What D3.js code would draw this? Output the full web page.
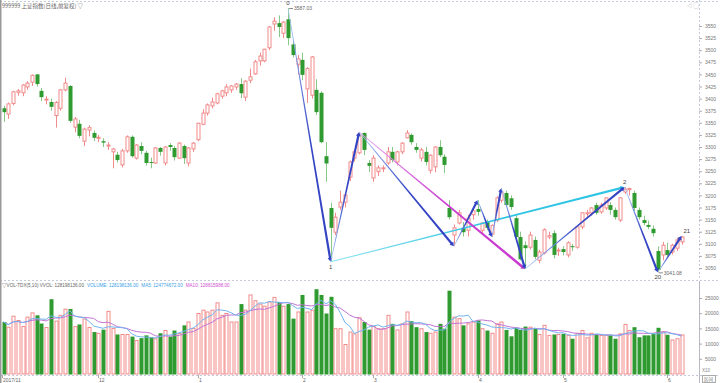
<!DOCTYPE html>
<html>
<head>
<meta charset="utf-8">
<script src="https://cdn.jsdelivr.net/npm/d3@7"></script>
<style>
  body { margin: 0; background: #fff; }
  svg { display: block; font-family: "Liberation Sans", "Noto Sans CJK SC", sans-serif; }
</style>
</head>
<body>
<script>
// SSE composite daily, 2017/11/03 .. 2018/06/06
var opens = [3380,3368,3390,3413,3412,3424,3434,3450,3416,3397, 3393,3365,3380,3418,3426,3341,3348,3312,3335,3329,
  3318,3312,3302,3290,3284,3263,3292,3321,3277,3302, 3288,3269,3267,3298,3267,3304,3298,3277,3302,3267,
  3296,3315,3347,3370,3385,3391,3405,3412,3418,3424, 3430,3403,3438,3451,3478,3478,3505,3554,3556,3535,
  3564,3512,3471,3480,3420,3407,3418,3412,3281,3174, 3124,3176,3186,3238,3277,3288,3329,3267,3236,3249,
  3255,3267,3290,3269,3290,3319,3325,3300,3277,3290, 3252,3259,3300,3280,3174,3118,3143,3133,3128,3160,
  3172,3128,3145,3120,3149,3190,3205,3194,3153,3114, 3097,3093,3108,3066,3081,3114,3122,3085,3089,3077,
  3095,3093,3135,3162,3164,3180,3166,3174,3180,3170, 3149,3207,3212,3205,3170,3149,3139,3131,3085,3077,
  3087,3083,3091,3104];
var highs = [3385,3392,3416,3420,3430,3436,3450,3451,3422,3405, 3400,3395,3420,3443,3428,3362,3356,3340,3345,3334,
  3325,3318,3310,3298,3290,3296,3324,3324,3306,3310, 3292,3278,3300,3300,3302,3308,3302,3310,3305,3300,
  3310,3350,3378,3390,3402,3412,3418,3430,3428,3432, 3442,3438,3462,3480,3495,3503,3550,3568,3572,3560,
  3587.03,3520,3490,3495,3465,3488,3440,3415,3310,3185, 3164,3210,3205,3272,3295,3331,3330,3273,3283,3262,
  3262,3300,3300,3292,3310,3335,3328,3308,3298,3300, 3285,3302,3314,3285,3190,3140,3170,3145,3160,3172,
  3190,3145,3150,3140,3198,3215,3210,3200,3160,3125, 3105,3125,3115,3088,3132,3125,3128,3092,3095,3105,
  3100,3138,3165,3170,3176,3185,3185,3196,3186,3175, 3196,3217,3216,3210,3175,3158,3148,3138,3095,3104,
  3102,3100,3112,3116];
var lows = [3352,3358,3386,3406,3405,3418,3426,3425,3395,3388, 3375,3340,3375,3415,3350,3330,3318,3302,3322,3312,
  3310,3300,3294,3256,3268,3258,3288,3278,3274,3285, 3262,3256,3265,3282,3262,3292,3272,3275,3265,3260,
  3290,3312,3345,3365,3380,3388,3400,3405,3412,3418, 3401,3395,3432,3449,3468,3475,3500,3540,3527,3525,
  3510,3485,3450,3438,3391,3400,3366,3308,3228,3062.74, 3118,3170,3175,3230,3270,3285,3283,3248,3228,3240,
  3248,3263,3268,3262,3285,3318,3305,3288,3270,3262, 3245,3248,3279,3246,3150,3095,3140,3115,3115,3150,
  3158,3120,3128,3114,3145,3185,3176,3170,3110,3066, 3048,3088,3068,3060,3078,3110,3070,3075,3076,3072,
  3085,3090,3130,3155,3158,3160,3162,3170,3160,3150, 3145,3203,3200,3168,3150,3138,3130,3115,3041.08,3066,
  3070,3078,3085,3098];
var closes = [3372,3389,3414,3416,3428,3432,3448,3430,3403,3399, 3383,3392,3418,3432,3354,3358,3323,3337,3340,3319,
  3320,3309,3304,3296,3273,3292,3321,3281,3304,3292, 3267,3267,3298,3290,3300,3300,3279,3308,3277,3298,
  3308,3349,3370,3387,3393,3410,3416,3424,3426,3430, 3411,3436,3445,3476,3488,3502,3548,3560,3548,3558,
  3525,3490,3482,3449,3462,3486,3372,3310,3266,3133, 3155,3186,3201,3269,3290,3325,3294,3261,3277,3257,
  3257,3290,3273,3290,3308,3329,3310,3294,3294,3269, 3283,3300,3283,3263,3155,3133,3164,3124,3153,3168,
  3166,3143,3133,3138,3195,3207,3180,3176,3114,3068, 3091,3118,3073,3083,3129,3117,3077,3087,3083,3102,
  3093,3135,3164,3164,3174,3164,3180,3195,3170,3155, 3195,3213,3214,3174,3155,3143,3135,3122,3046,3097,
  3077,3097,3108,3114];
// volume, in units of 10k lots
var volumes = [17100,15400,19000,17600,15600,18700,20100,19300,16600,15300, 24600,17400,19300,21300,21400,15600,16300,18100,15300,13800,
  13400,14600,20600,15000,13000,13000,13000,12300,11000,11800, 12700,12100,11600,13400,14300,12300,14300,13300,16000,17100,
  15000,19900,21000,20400,21000,23400,19300,19900,17100,17100, 23000,21000,26000,24100,23000,22300,23700,25200,23700,22300,
  23000,18200,20400,26000,20400,21000,27900,26000,19900,25400, 14900,14900,9700,13800,13200,18500,17100,14600,15600,14900,
  14900,19300,16500,14500,16500,20400,17400,15400,14900,13800, 13400,13800,16500,14900,27400,18700,18200,16000,16500,17100,
  17600,14900,14300,13400,16500,17100,14500,12400,15200,14500, 15600,15400,14900,13000,16000,12700,13000,13000,13200,12700,
  11600,13400,14300,11900,13400,13000,12700,12700,12700,11600, 13200,16300,14300,15400,12100,12700,12700,13200,15200,13800,
  12900,11200,11600,12820];

// month ticks on the date axis
var monthIdx = [0, 20, 41, 63, 78, 100, 118, 140];
var monthLabels = ["2017/11", "12", "1", "2", "3", "4", "5", "6"];

var priceTicks = d3.range(3050, 3551, 25);
var volTicks = [5000, 10000, 15000, 20000, 25000];

// wave pivots (candle index, price) and their labels
var waveIdx = [60, 69, 75, 95, 100, 103, 105, 110, 131, 138, 143];
var wavePrice = [3587.03, 3062.74, 3331, 3095, 3190, 3114, 3215, 3048, 3217, 3041.08, 3116];
var waveNames = {60: "0", 69: "1", 131: "2", 138: "20", 143: "21"};

var N = closes.length;
var width = 720, height = 383;

var svg = d3.select("body").append("svg")
  .attr("width", width).attr("height", height);
var defs = svg.append("defs");

var x = d3.scaleBand().domain(d3.range(N)).range([1.2, 683.9]);
var cx = function(i) { return x(i) + x.bandwidth() / 2; };
var yP = d3.scaleLinear().domain([3050, 3550]).range([268, 26]);
var yV = d3.scaleLinear().domain([0, 25000]).range([374, 298]);

var RED = "#f28a8a", GREEN = "#2f9a2f", GREEN_WICK = "#86c886";

// frame lines
var dash = "#c5c9de";
svg.append("line").attr("x1", 0).attr("x2", width).attr("y1", 1.5).attr("y2", 1.5)
  .attr("stroke", dash).attr("stroke-dasharray", "2,2");
svg.append("line").attr("x1", 699.5).attr("x2", 699.5).attr("y1", 0).attr("y2", 280)
  .attr("stroke", dash).attr("stroke-dasharray", "2,2");
svg.append("line").attr("x1", 0).attr("x2", width).attr("y1", 280.5).attr("y2", 280.5)
  .attr("stroke", dash).attr("stroke-dasharray", "2,2");
svg.append("line").attr("x1", 699.5).attr("x2", 699.5).attr("y1", 281).attr("y2", height)
  .attr("stroke", "#b8b8c8");
svg.append("line").attr("x1", 0).attr("x2", width).attr("y1", 375.5).attr("y2", 375.5)
  .attr("stroke", dash).attr("stroke-dasharray", "2,2");
svg.append("line").attr("x1", 0.75).attr("x2", 0.75).attr("y1", 0).attr("y2", height)
  .attr("stroke", "#999").attr("stroke-width", 1.5);

// right axes
function styleAxis(g) {
  g.select(".domain").remove();
  g.selectAll(".tick line").attr("stroke", "#aaa");
  g.selectAll(".tick text").attr("fill", "#777").attr("font-size", "5px")
    .attr("font-family", "Liberation Sans, sans-serif");
}
svg.append("g").attr("transform", "translate(699,0)")
  .call(d3.axisRight(yP).tickValues(priceTicks).tickSize(3).tickFormat(d3.format("d")))
  .call(styleAxis);
svg.append("g").attr("transform", "translate(699,0)")
  .call(d3.axisRight(yV).tickValues(volTicks).tickSize(3).tickFormat(d3.format("d")))
  .call(styleAxis);

// candles
var candles = svg.append("g");
d3.range(N).forEach(function(i) {
  var up = closes[i] >= opens[i];
  var c = cx(i);
  candles.append("line")
    .attr("x1", Math.round(c) + 0.5).attr("x2", Math.round(c) + 0.5)
    .attr("y1", yP(highs[i])).attr("y2", yP(lows[i]))
    .attr("stroke", up ? RED : GREEN_WICK);
  var top = yP(Math.max(opens[i], closes[i]));
  var h = Math.max(1, yP(Math.min(opens[i], closes[i])) - top);
  if (up) {
    candles.append("rect")
      .attr("x", Math.round(c) - 1).attr("y", top).attr("width", 3).attr("height", h)
      .attr("fill", "#fff").attr("stroke", RED);
  } else {
    candles.append("rect")
      .attr("x", Math.round(c) - 1.5).attr("y", top).attr("width", 4).attr("height", h)
      .attr("fill", GREEN);
  }
});

// volume bars
var vbars = svg.append("g");
d3.range(N).forEach(function(i) {
  var up = closes[i] >= opens[i];
  var c = Math.round(cx(i));
  if (up) {
    vbars.append("rect").attr("x", c - 1).attr("y", yV(volumes[i]))
      .attr("width", 3).attr("height", yV(0) - yV(volumes[i]))
      .attr("fill", "#fff").attr("stroke", RED);
  } else {
    vbars.append("rect").attr("x", c - 1.5).attr("y", yV(volumes[i]))
      .attr("width", 4).attr("height", yV(0) - yV(volumes[i]) + 0.5)
      .attr("fill", GREEN);
  }
});

// volume moving averages
function movingAvg(n) {
  return volumes.map(function(v, i) { return d3.mean(volumes.slice(Math.max(0, i - n + 1), i + 1)); });
}
var maLine = d3.line().x(function(d, i) { return cx(i); }).y(function(d) { return yV(d); });
svg.append("path").attr("d", maLine(movingAvg(10))).attr("fill", "none")
  .attr("stroke", "#c274d6").attr("stroke-width", 1);
svg.append("path").attr("d", maLine(movingAvg(5))).attr("fill", "none")
  .attr("stroke", "#72b4ee").attr("stroke-width", 1);

// tapered arrow segments for the wave lines
var segCount = 0;
function taper(p, q, w0, w1, c0, c1) {
  var dx = q[0] - p[0], dy = q[1] - p[1], L = Math.hypot(dx, dy);
  var ux = dx / L, uy = dy / L, nx = -uy, ny = ux;
  var id = "seg" + (segCount++);
  var grad = defs.append("linearGradient").attr("id", id).attr("gradientUnits", "userSpaceOnUse")
    .attr("x1", p[0]).attr("y1", p[1]).attr("x2", q[0]).attr("y2", q[1]);
  grad.append("stop").attr("offset", 0).attr("stop-color", c0);
  grad.append("stop").attr("offset", 0.55).attr("stop-color", c1);
  grad.append("stop").attr("offset", 1).attr("stop-color", c1);
  var e = [q[0] - ux * 4, q[1] - uy * 4];
  var pts = [
    [p[0] + nx * w0 / 2, p[1] + ny * w0 / 2],
    [e[0] + nx * w1 / 2, e[1] + ny * w1 / 2],
    [e[0] + nx * (w1 / 2 + 1.3), e[1] + ny * (w1 / 2 + 1.3)],
    q,
    [e[0] - nx * (w1 / 2 + 1.3), e[1] - ny * (w1 / 2 + 1.3)],
    [e[0] - nx * w1 / 2, e[1] - ny * w1 / 2],
    [p[0] - nx * w0 / 2, p[1] - ny * w0 / 2]
  ];
  svg.append("polygon").attr("points", pts.map(function(d) { return d.join(","); }).join(" "))
    .attr("fill", "url(#" + id + ")");
}
function pivot(k) { return [cx(waveIdx[k]), yP(wavePrice[k])]; }

// cyan: 1 -> 2, magenta: high of late Feb -> April low
taper(pivot(1), pivot(8), 1, 2.2, "#8fe3f2", "#2ec4e4");
taper(pivot(2), pivot(7), 0.8, 2.6, "#e6a0ee", "#c93ccf");
for (var k = 0; k < waveIdx.length - 1; k++) {
  taper(pivot(k), pivot(k + 1), 0.6, 2.3, "#a9c9f6", "#3444c4");
}

// wave labels
var lab = svg.append("g").attr("font-size", "6px").attr("fill", "#444")
  .attr("font-family", "Liberation Sans, sans-serif");
waveIdx.forEach(function(idx, k) {
  var name = waveNames[idx];
  if (!name) return;
  var p = pivot(k);
  var isLow = k > 0 && wavePrice[k] < wavePrice[k - 1];
  var ty = isLow ? p[1] + 7 : p[1] - 3;
  if (name === "21") { lab.append("text").attr("x", p[0] + 2).attr("y", p[1] - 3).text(name); return; }
  lab.append("text").attr("x", p[0]).attr("y", ty).attr("text-anchor", "middle").text(name);
});
// extreme price marks
[[0, 60], [9, 138]].forEach(function(d) {
  var p = pivot(d[0]);
  svg.append("line").attr("x1", p[0] + 1).attr("x2", p[0] + 5).attr("y1", p[1] + 0.5).attr("y2", p[1] + 0.5)
    .attr("stroke", "#888");
  svg.append("text").attr("x", p[0] + 6).attr("y", p[1] + 2.2).attr("font-size", "5px").attr("fill", "#666")
    .text(d3.format(".2f")(wavePrice[d[0]]));
});

// headers
svg.append("text").attr("x", 2).attr("y", 7.5).attr("font-size", "5.5px").attr("fill", "#666")
  .attr("font-family", "Noto Sans CJK SC, sans-serif")
  .text("999999 上证指数(日线,前复权) ▽");
var volStr = d3.format(".2f")(128198136);
var hdrParts = [
  ["▽VOL-TDX(5,10) VVOL: " + volStr, "#666"],
  ["VOLUME: " + volStr, "#3aa0e6"],
  ["MA5: " + d3.format(".2f")(124774672), "#3aa0e6"],
  ["MA10: " + d3.format(".2f")(128815988), "#d050d0"]
];
var hx = 2;
hdrParts.forEach(function(d) {
  var t = svg.append("text").attr("x", hx).attr("y", 287).attr("font-size", "4.6px")
    .attr("fill", d[1]).text(d[0]);
  hx += t.node().getComputedTextLength() + 3;
});

// top-right small icons
svg.append("text").attr("x", 687).attr("y", 7).attr("font-size", "5px").attr("fill", "#999").text("◁ ▢");

// date axis labels
var dax = svg.append("g").attr("font-size", "5px").attr("fill", "#666");
monthIdx.forEach(function(idx, k) {
  var xx = k === 0 ? 2 : Math.round(cx(idx));
  dax.append("line").attr("x1", xx + 0.5).attr("x2", xx + 0.5).attr("y1", 375).attr("y2", 378).attr("stroke", "#aaa");
  dax.append("text").attr("x", xx + 1).attr("y", 381.5).text(monthLabels[k]);
});
svg.append("text").attr("x", 702).attr("y", 372).attr("font-size", "4.5px").attr("fill", "#888").text("X10");
svg.append("rect").attr("x", 702.5).attr("y", 375.5).attr("width", 13).attr("height", 7)
  .attr("fill", "#fff").attr("stroke", "#aaa");
svg.append("text").attr("x", 704).attr("y", 381).attr("font-size", "4.5px").attr("fill", "#777")
  .attr("font-family", "Noto Sans CJK SC, sans-serif").text("区间");
</script>
</body>
</html>
